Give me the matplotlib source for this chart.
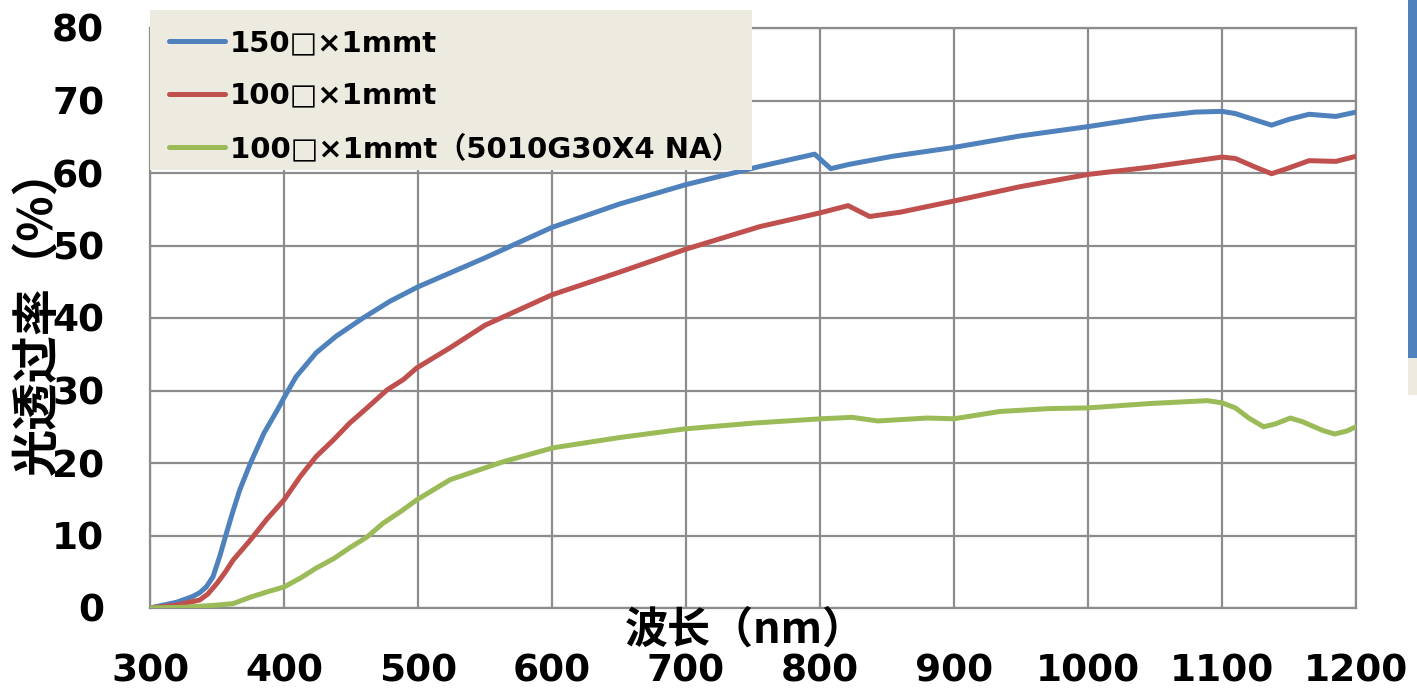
"""
Light transmittance vs wavelength chart
"""
import matplotlib.pyplot as plt
from matplotlib.patches import Rectangle
from matplotlib.font_manager import FontProperties

# --- data ---
labels = ['150□×1mmt', '100□×1mmt', '100□×1mmt（5010G30X4 NA）']
colors = ['#4F81BD', '#C0504D', '#9BBB59']

blue_nm = [300, 320, 332, 337, 342, 347, 352, 357, 362, 367, 375, 385, 395, 400, 409, 424, 439,
           459, 479, 500, 550, 600, 650, 700, 755, 796, 808, 822, 854, 899, 949, 1000, 1046,
           1080, 1100, 1110, 1125, 1137, 1150, 1165, 1185, 1200]
blue_t = [0.0, 0.8, 1.6, 2.1, 2.9, 4.3, 7.1, 10.3, 13.4, 16.3, 20.0, 24.1, 27.3, 29.0, 31.9, 35.2, 37.5,
          40.0, 42.3, 44.3, 48.3, 52.5, 55.7, 58.4, 60.9, 62.6, 60.6, 61.2, 62.3, 63.5, 65.1, 66.4, 67.7,
          68.4, 68.5, 68.2, 67.3, 66.6, 67.4, 68.1, 67.8, 68.4]

red_nm = [300, 320, 337, 343, 350, 356, 362, 375, 387, 400, 412, 424, 437, 449, 462, 477, 489,
          499, 524, 550, 600, 650, 700, 755, 800, 821, 837, 860, 899, 949, 1000, 1046, 1100,
          1110, 1125, 1137, 1150, 1165, 1185, 1200]
red_t = [0.0, 0.4, 1.1, 1.9, 3.4, 4.9, 6.6, 9.4, 12.2, 14.9, 18.1, 20.9, 23.2, 25.5, 27.6, 30.1, 31.5,
         33.1, 35.9, 39.0, 43.2, 46.3, 49.5, 52.6, 54.5, 55.5, 54.0, 54.6, 56.1, 58.1, 59.8, 60.8, 62.2,
         62.0, 60.8, 59.9, 60.7, 61.7, 61.6, 62.3]

green_nm = [300, 325, 350, 362, 375, 387, 400, 412, 424, 437, 449, 462, 474, 487, 499, 524,
            564, 601, 650, 699, 750, 801, 824, 843, 880, 900, 934, 970, 1000, 1046, 1089,
            1100, 1110, 1120, 1131, 1140, 1151, 1160, 1175, 1184, 1193, 1200]
green_t = [0.0, 0.1, 0.4, 0.6, 1.5, 2.2, 2.9, 4.1, 5.5, 6.8, 8.3, 9.8, 11.7, 13.3, 14.9, 17.7,
           20.2, 22.1, 23.5, 24.7, 25.5, 26.1, 26.3, 25.8, 26.2, 26.1, 27.1, 27.5, 27.6, 28.2, 28.6,
           28.3, 27.6, 26.2, 25.0, 25.4, 26.2, 25.7, 24.5, 24.0, 24.4, 25.0]

x_ticks = list(range(300, 1201, 100))
y_ticks = list(range(0, 81, 10))

W, H = 1417, 688
fig = plt.figure(figsize=(W / 100, H / 100), dpi=100)
ax = fig.add_axes([150 / W, 1 - 608 / H, (1356 - 150) / W, (608 - 28) / H])

grid_color = '#8C8C8C'
for nm, t, c in zip([blue_nm, red_nm, green_nm], [blue_t, red_t, green_t], colors):
    ax.plot(nm, t, color=c, linewidth=3.6, solid_capstyle='round',
            solid_joinstyle='round', zorder=3)

ax.set_xlim(300, 1200)
ax.set_ylim(0, 80)
ax.set_xticks(x_ticks)
ax.set_yticks(y_ticks)
ax.grid(True, color=grid_color, linewidth=1.6)
for s in ax.spines.values():
    s.set_color(grid_color)
    s.set_linewidth(1.6)
ax.tick_params(length=0, labelsize=27)
ax.tick_params(axis='x', pad=33)
ax.tick_params(axis='y', pad=33)
for lab in ax.get_xticklabels() + ax.get_yticklabels():
    lab.set_fontweight('bold')

cjk = ['Noto Sans CJK JP', 'DejaVu Sans']
fig.text(745 / W, 1 - 630 / H, '波长（nm）', ha='center', va='center',
         fontsize=31, fontweight='bold', family=cjk)
fig.text(38 / W, 1 - 311 / H, '光透过率（%）', ha='center', va='center', rotation=90,
         fontsize=34, fontweight='bold', family=cjk)

# legend box
fig.patches.append(Rectangle((150 / W, 1 - 170 / H), (752 - 150) / W, 160 / H,
                             transform=fig.transFigure, facecolor='#EDEBE0',
                             edgecolor='none', zorder=1))
handles = ax.get_lines()
leg_font = FontProperties(family=['DejaVu Sans', 'Noto Sans CJK JP'], weight='bold', size=21)
fig.legend(handles, labels, loc='upper left', bbox_to_anchor=(169 / W, 1 - 29 / H),
           frameon=False, prop=leg_font, handlelength=1.92, handletextpad=0.17,
           labelspacing=0.85, borderaxespad=0, borderpad=0)

# decorative side bar
fig.patches.append(Rectangle((1408 / W, 1 - 358 / H), 9 / W, 358 / H,
                             transform=fig.transFigure, facecolor='#4F81BD', edgecolor='none'))
fig.patches.append(Rectangle((1408 / W, 1 - 395 / H), 9 / W, 37 / H,
                             transform=fig.transFigure, facecolor='#EDEBE0', edgecolor='none'))

fig.savefig('out.png', dpi=100, facecolor='white')
